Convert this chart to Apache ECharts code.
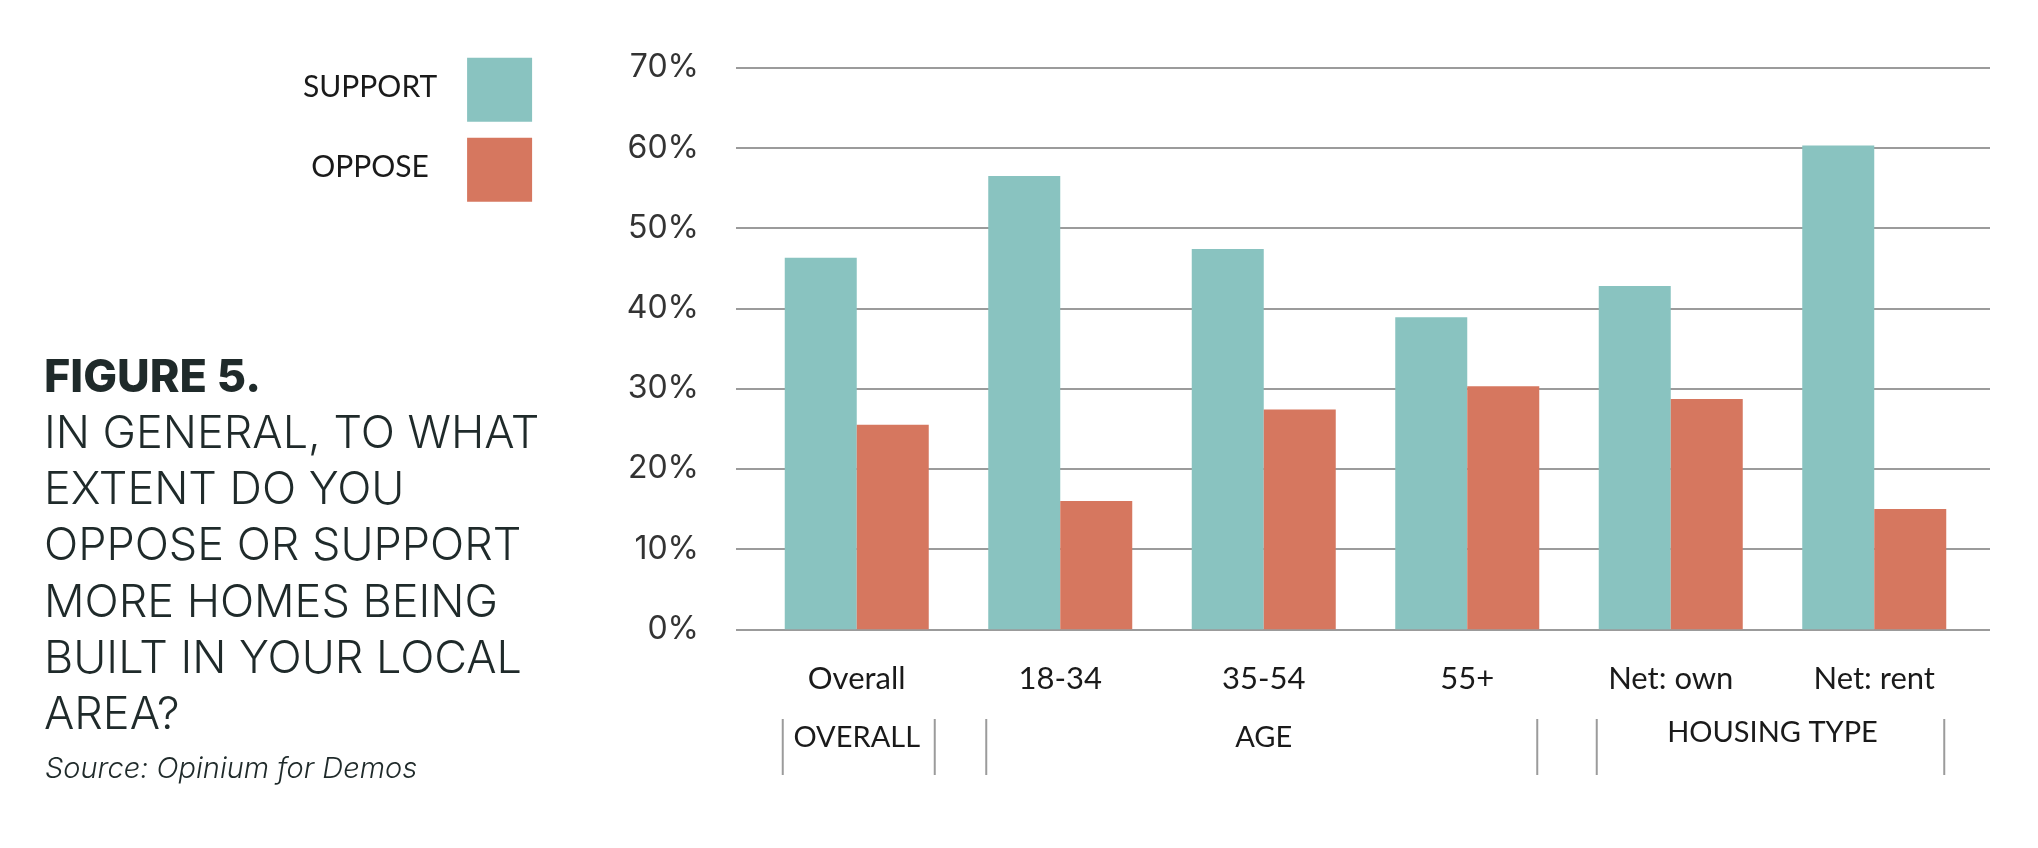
<!DOCTYPE html>
<html><head><meta charset="utf-8">
<script src="https://cdn.jsdelivr.net/npm/echarts@6/dist/echarts.min.js"></script>
<style>html,body{margin:0;padding:0;background:#fff}#c{width:2038px;height:848px}</style>
</head><body><div id="c"></div>
<script>
const categories = ['Overall', '18-34', '35-54', '55+', 'Net: own', 'Net: rent'];
const supportValues = [46.3, 56.5, 47.4, 38.9, 42.8, 60.3];
const opposeValues = [25.5, 16.0, 27.4, 30.3, 28.7, 15.0];
const yTickLabels = ['0%', '10%', '20%', '30%', '40%', '50%', '60%', '70%'];
const seriesNames = ['SUPPORT', 'OPPOSE'];
const groupNames = ['OVERALL', 'AGE', 'HOUSING TYPE'];
const groupFirst = ['Overall', '18-34', 'Net: own'];
const groupLast = ['Overall', '55+', 'Net: rent'];
const figureLabel = 'FIGURE 5.';
const questionLines = ['IN GENERAL, TO WHAT', 'EXTENT DO YOU', 'OPPOSE OR SUPPORT', 'MORE HOMES BEING', 'BUILT IN YOUR LOCAL', 'AREA?'];
const sourceText = 'Source: Opinium for Demos';

const COLORS = ['#89C3C0', '#D6775F'];
const GRID_TOP = 67.7, GRID_BOTTOM = 218.7;
const chart = echarts.init(document.getElementById('c'));

const option = {
  animation: false,
  backgroundColor: '#ffffff',
  title: [
    { text: figureLabel, left: 44, top: 356, padding: 0,
      textStyle: { fontFamily: 'Inter', fontWeight: 800, fontSize: 45, color: '#1f2a2a', lineHeight: 45 } },
    { text: questionLines.join('\n'), left: 44, top: 406, padding: 0,
      textStyle: { fontFamily: 'Inter', fontWeight: 300, fontSize: 45, color: '#1f2a2a', lineHeight: 56.3 } },
    { text: sourceText, left: 45, top: 755, padding: 0,
      textStyle: { fontFamily: 'Inter', fontWeight: 300, fontStyle: 'italic', fontSize: 29, color: '#1f2a2a', lineHeight: 29 } }
  ],
  legend: {
    data: seriesNames,
    orient: 'vertical',
    left: 303, top: 57.7,
    align: 'right',
    icon: 'rect',
    itemWidth: 65, itemHeight: 64, itemGap: 16,
    padding: 0,
    selectedMode: false,
    formatter: '{t|{name}}',
    textStyle: {
      rich: { t: { width: 140, align: 'center', padding: [0, 22, 5, 0], fontFamily: 'Lato', fontSize: 30, color: '#1a1a1a' } }
    }
  },
  grid: [
    { left: 755, right: 62, top: GRID_TOP, bottom: GRID_BOTTOM },
    { left: 736, right: 48, top: GRID_TOP, bottom: GRID_BOTTOM }
  ],
  xAxis: [
    { type: 'category', gridIndex: 0, data: categories,
      axisLine: { show: false }, axisTick: { show: false },
      axisLabel: { margin: 34, fontFamily: 'Lato', fontSize: 31, lineHeight: 31, color: '#1a1a1a', interval: 0 } },
    { type: 'category', gridIndex: 1, data: categories, show: false }
  ],
  yAxis: [
    { type: 'value', gridIndex: 0, min: 0, max: 70, interval: 10, show: false, splitLine: { show: false } },
    { type: 'value', gridIndex: 1, min: 0, max: 70, interval: 10,
      axisLine: { show: false }, axisTick: { show: false },
      splitLine: { show: true, lineStyle: { color: '#9b9b9b', width: 2 } },
      axisLabel: { margin: 37, fontFamily: 'Inter', fontSize: 32, color: '#333333',
        formatter: v => yTickLabels[Math.round(v / 10)] } }
  ],
  series: [
    { name: seriesNames[0], type: 'bar', xAxisIndex: 0, yAxisIndex: 0, data: supportValues,
      barWidth: 72, barGap: '0%', itemStyle: { color: COLORS[0] } },
    { name: seriesNames[1], type: 'bar', xAxisIndex: 0, yAxisIndex: 0, data: opposeValues,
      barWidth: 72, barGap: '0%', itemStyle: { color: COLORS[1] } }
  ]
};
chart.setOption(option);

// group labels and dividers positioned from the category axis
const px = name => chart.convertToPixel({ xAxisIndex: 0 }, name);
const graphics = [];
groupNames.forEach((g, i) => {
  const a = px(groupFirst[i]), b = px(groupLast[i]);
  const left = a - 74, right = b + (i === 0 ? 78 : 70);
  [left, right].forEach(x => graphics.push({
    type: 'line', shape: { x1: x, y1: 719, x2: x, y2: 775 },
    style: { stroke: '#9b9b9b', lineWidth: 2 }, silent: true
  }));
  graphics.push({
    type: 'text', x: (a + b) / 2, y: i === 2 ? 733 : 738,
    style: { text: g, align: 'center', verticalAlign: 'middle', fontFamily: 'Lato', fontSize: 29, fill: '#1a1a1a' },
    silent: true
  });
});
chart.setOption({ graphic: graphics });
</script>
</body></html>
